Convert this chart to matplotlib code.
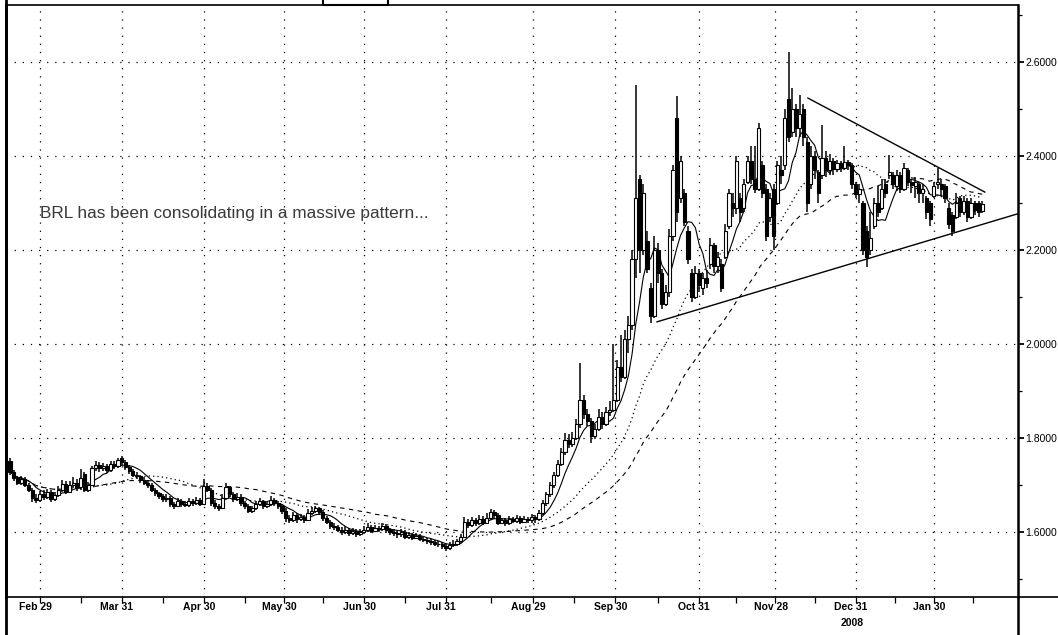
import matplotlib
matplotlib.use("Agg")
import matplotlib.pyplot as plt
import matplotlib.transforms as mtransforms
from matplotlib.lines import Line2D
from matplotlib.patches import Rectangle
import numpy as np
import pandas as pd

plt.rcParams['font.family'] = ['Liberation Sans', 'DejaVu Sans']

# daily USD/BRL bars, Feb 2008 - Feb 2009
open_ = [
    1.750, 1.728, 1.715, 1.705, 1.712, 1.700, 1.690, 1.672, 1.668, 1.680,
    1.675, 1.685, 1.670, 1.678, 1.690, 1.702, 1.685, 1.700, 1.705, 1.695,
    1.724, 1.690, 1.700, 1.735, 1.742, 1.735, 1.740, 1.732, 1.745, 1.740,
    1.758, 1.748, 1.738, 1.730, 1.722, 1.718, 1.710, 1.705, 1.700, 1.690,
    1.682, 1.676, 1.670, 1.672, 1.660, 1.655, 1.665, 1.660, 1.658, 1.665,
    1.662, 1.668, 1.660, 1.698, 1.690, 1.662, 1.655, 1.650, 1.672, 1.695,
    1.680, 1.670, 1.675, 1.662, 1.655, 1.645, 1.650, 1.660, 1.665, 1.655,
    1.660, 1.668, 1.662, 1.655, 1.645, 1.630, 1.625, 1.635, 1.628, 1.632,
    1.626, 1.640, 1.645, 1.650, 1.642, 1.630, 1.622, 1.612, 1.610, 1.605,
    1.600, 1.605, 1.598, 1.602, 1.596, 1.600, 1.605, 1.610, 1.603, 1.608,
    1.606, 1.612, 1.604, 1.600, 1.598, 1.595, 1.600, 1.590, 1.594, 1.588,
    1.592, 1.586, 1.583, 1.580, 1.578, 1.575, 1.574, 1.570, 1.566, 1.572,
    1.575, 1.580, 1.590, 1.622, 1.615, 1.625, 1.618, 1.628, 1.620, 1.630,
    1.642, 1.635, 1.620, 1.625, 1.618, 1.628, 1.624, 1.630, 1.622, 1.628,
    1.625, 1.632, 1.628, 1.640, 1.662, 1.680, 1.700, 1.722, 1.745, 1.770,
    1.795, 1.788, 1.800, 1.830, 1.880, 1.850, 1.835, 1.805, 1.820, 1.845,
    1.830, 1.855, 1.860, 1.880, 1.950, 1.930, 2.010, 2.040, 2.180, 2.350,
    2.200, 2.220, 2.120, 2.060, 2.200, 2.150, 2.085, 2.110, 2.230, 2.480,
    2.310, 2.320, 2.240, 2.150, 2.100, 2.150, 2.120, 2.140, 2.170, 2.210,
    2.165, 2.170, 2.185, 2.250, 2.300, 2.290, 2.310, 2.290, 2.345, 2.390,
    2.350, 2.330, 2.380, 2.330, 2.270, 2.330, 2.300, 2.370, 2.380, 2.520,
    2.450, 2.500, 2.460, 2.500, 2.430, 2.340, 2.400, 2.365, 2.360, 2.395,
    2.370, 2.390, 2.372, 2.385, 2.375, 2.388, 2.380, 2.340, 2.318, 2.300,
    2.240, 2.200, 2.250, 2.300, 2.290, 2.340, 2.360, 2.360, 2.335, 2.360,
    2.330, 2.370, 2.345, 2.335, 2.340, 2.320, 2.310, 2.300, 2.315, 2.340,
    2.340, 2.335, 2.290, 2.275, 2.270, 2.310, 2.280, 2.305, 2.270, 2.300,
    2.300, 2.282]

high = [
    1.758, 1.732, 1.720, 1.718, 1.716, 1.705, 1.694, 1.680, 1.688, 1.690,
    1.692, 1.690, 1.684, 1.698, 1.710, 1.708, 1.708, 1.716, 1.712, 1.734,
    1.728, 1.706, 1.740, 1.750, 1.748, 1.746, 1.745, 1.750, 1.750, 1.758,
    1.762, 1.752, 1.742, 1.734, 1.728, 1.722, 1.716, 1.710, 1.704, 1.694,
    1.686, 1.680, 1.680, 1.676, 1.664, 1.672, 1.670, 1.666, 1.672, 1.670,
    1.674, 1.672, 1.712, 1.704, 1.694, 1.668, 1.660, 1.680, 1.704, 1.698,
    1.686, 1.682, 1.680, 1.666, 1.660, 1.656, 1.666, 1.672, 1.668, 1.666,
    1.676, 1.672, 1.666, 1.660, 1.650, 1.636, 1.642, 1.640, 1.638, 1.636,
    1.648, 1.652, 1.656, 1.654, 1.646, 1.634, 1.626, 1.618, 1.614, 1.610,
    1.612, 1.608, 1.608, 1.606, 1.606, 1.612, 1.618, 1.614, 1.614, 1.612,
    1.618, 1.616, 1.608, 1.606, 1.602, 1.606, 1.604, 1.600, 1.598, 1.598,
    1.596, 1.590, 1.588, 1.584, 1.582, 1.580, 1.578, 1.574, 1.578, 1.582,
    1.586, 1.596, 1.632, 1.628, 1.632, 1.630, 1.636, 1.634, 1.640, 1.648,
    1.646, 1.640, 1.630, 1.630, 1.634, 1.632, 1.636, 1.634, 1.634, 1.632,
    1.638, 1.636, 1.646, 1.668, 1.686, 1.706, 1.728, 1.752, 1.778, 1.810,
    1.808, 1.812, 1.840, 1.960, 1.892, 1.862, 1.842, 1.830, 1.862, 1.855,
    1.866, 1.878, 2.000, 1.966, 2.020, 2.030, 2.060, 2.200, 2.550, 2.360,
    2.340, 2.240, 2.130, 2.230, 2.215, 2.160, 2.125, 2.245, 2.380, 2.527,
    2.400, 2.330, 2.250, 2.160, 2.165, 2.160, 2.150, 2.158, 2.225, 2.215,
    2.195, 2.180, 2.255, 2.330, 2.320, 2.400, 2.320, 2.350, 2.400, 2.420,
    2.420, 2.470, 2.390, 2.340, 2.320, 2.340, 2.390, 2.400, 2.500, 2.620,
    2.545, 2.510, 2.530, 2.510, 2.440, 2.420, 2.410, 2.370, 2.466, 2.410,
    2.405, 2.395, 2.392, 2.390, 2.420, 2.392, 2.385, 2.345, 2.340, 2.305,
    2.250, 2.280, 2.310, 2.335, 2.350, 2.350, 2.402, 2.365, 2.370, 2.365,
    2.385, 2.375, 2.350, 2.355, 2.345, 2.340, 2.315, 2.305, 2.345, 2.375,
    2.350, 2.340, 2.300, 2.280, 2.320, 2.315, 2.315, 2.310, 2.310, 2.305,
    2.305, 2.305]

low = [
    1.722, 1.708, 1.700, 1.700, 1.695, 1.684, 1.664, 1.662, 1.664, 1.668,
    1.670, 1.664, 1.666, 1.674, 1.686, 1.680, 1.682, 1.694, 1.688, 1.690,
    1.684, 1.686, 1.698, 1.730, 1.728, 1.730, 1.726, 1.728, 1.734, 1.736,
    1.742, 1.732, 1.724, 1.716, 1.712, 1.704, 1.700, 1.694, 1.684, 1.676,
    1.670, 1.664, 1.664, 1.654, 1.648, 1.652, 1.654, 1.652, 1.654, 1.656,
    1.658, 1.656, 1.658, 1.684, 1.656, 1.648, 1.644, 1.648, 1.668, 1.674,
    1.664, 1.666, 1.656, 1.648, 1.640, 1.640, 1.646, 1.656, 1.648, 1.650,
    1.656, 1.656, 1.648, 1.638, 1.622, 1.618, 1.622, 1.620, 1.624, 1.620,
    1.624, 1.636, 1.640, 1.636, 1.624, 1.616, 1.606, 1.604, 1.600, 1.594,
    1.596, 1.592, 1.594, 1.590, 1.592, 1.596, 1.600, 1.598, 1.600, 1.600,
    1.602, 1.598, 1.594, 1.592, 1.588, 1.590, 1.584, 1.586, 1.582, 1.584,
    1.580, 1.578, 1.574, 1.572, 1.570, 1.568, 1.564, 1.560, 1.562, 1.568,
    1.570, 1.576, 1.588, 1.608, 1.610, 1.612, 1.614, 1.614, 1.616, 1.626,
    1.628, 1.614, 1.616, 1.612, 1.614, 1.618, 1.620, 1.616, 1.618, 1.618,
    1.620, 1.620, 1.624, 1.636, 1.656, 1.674, 1.694, 1.716, 1.740, 1.764,
    1.778, 1.780, 1.796, 1.822, 1.840, 1.826, 1.790, 1.798, 1.815, 1.818,
    1.825, 1.846, 1.855, 1.876, 1.920, 1.925, 1.980, 2.030, 2.140, 2.150,
    2.190, 2.150, 2.045, 2.055, 2.130, 2.075, 2.080, 2.100, 2.220, 2.260,
    2.300, 2.250, 2.170, 2.090, 2.095, 2.110, 2.105, 2.120, 2.160, 2.150,
    2.150, 2.110, 2.180, 2.245, 2.270, 2.277, 2.260, 2.280, 2.340, 2.340,
    2.320, 2.325, 2.310, 2.220, 2.260, 2.200, 2.295, 2.340, 2.370, 2.430,
    2.440, 2.440, 2.440, 2.420, 2.280, 2.330, 2.350, 2.300, 2.350, 2.355,
    2.360, 2.360, 2.366, 2.365, 2.370, 2.370, 2.330, 2.310, 2.300, 2.190,
    2.163, 2.190, 2.245, 2.270, 2.285, 2.310, 2.350, 2.330, 2.325, 2.320,
    2.325, 2.335, 2.320, 2.310, 2.300, 2.300, 2.265, 2.250, 2.310, 2.330,
    2.315, 2.300, 2.245, 2.230, 2.265, 2.270, 2.275, 2.260, 2.265, 2.275,
    2.270, 2.278]

close = [
    1.728, 1.715, 1.705, 1.712, 1.700, 1.690, 1.672, 1.668, 1.680, 1.675,
    1.685, 1.670, 1.678, 1.690, 1.702, 1.685, 1.700, 1.705, 1.695, 1.715,
    1.690, 1.700, 1.735, 1.742, 1.735, 1.740, 1.732, 1.745, 1.740, 1.752,
    1.748, 1.738, 1.730, 1.722, 1.718, 1.710, 1.705, 1.700, 1.690, 1.682,
    1.676, 1.670, 1.672, 1.660, 1.655, 1.665, 1.660, 1.658, 1.665, 1.662,
    1.668, 1.660, 1.698, 1.690, 1.662, 1.655, 1.650, 1.672, 1.695, 1.680,
    1.670, 1.675, 1.662, 1.655, 1.645, 1.650, 1.660, 1.665, 1.655, 1.660,
    1.668, 1.662, 1.655, 1.645, 1.630, 1.625, 1.635, 1.628, 1.632, 1.626,
    1.640, 1.645, 1.650, 1.642, 1.630, 1.622, 1.612, 1.610, 1.605, 1.600,
    1.605, 1.598, 1.602, 1.596, 1.600, 1.605, 1.610, 1.603, 1.608, 1.606,
    1.612, 1.604, 1.600, 1.598, 1.595, 1.600, 1.590, 1.594, 1.588, 1.592,
    1.586, 1.583, 1.580, 1.578, 1.575, 1.574, 1.570, 1.566, 1.572, 1.575,
    1.580, 1.590, 1.622, 1.615, 1.625, 1.618, 1.628, 1.620, 1.630, 1.642,
    1.635, 1.620, 1.625, 1.618, 1.628, 1.624, 1.630, 1.622, 1.628, 1.625,
    1.632, 1.628, 1.640, 1.662, 1.680, 1.700, 1.722, 1.745, 1.770, 1.795,
    1.788, 1.800, 1.830, 1.880, 1.850, 1.835, 1.805, 1.820, 1.845, 1.830,
    1.855, 1.860, 1.880, 1.950, 1.930, 2.010, 2.040, 2.180, 2.310, 2.200,
    2.320, 2.160, 2.060, 2.200, 2.150, 2.085, 2.110, 2.230, 2.370, 2.280,
    2.390, 2.260, 2.180, 2.100, 2.150, 2.125, 2.140, 2.130, 2.210, 2.165,
    2.185, 2.120, 2.240, 2.320, 2.290, 2.390, 2.280, 2.340, 2.390, 2.350,
    2.330, 2.460, 2.320, 2.230, 2.310, 2.230, 2.380, 2.360, 2.480, 2.440,
    2.500, 2.460, 2.490, 2.440, 2.300, 2.400, 2.370, 2.320, 2.395, 2.370,
    2.390, 2.372, 2.385, 2.375, 2.388, 2.380, 2.340, 2.318, 2.330, 2.200,
    2.185, 2.225, 2.300, 2.280, 2.330, 2.320, 2.365, 2.340, 2.360, 2.330,
    2.375, 2.345, 2.338, 2.345, 2.320, 2.330, 2.280, 2.265, 2.335, 2.345,
    2.330, 2.310, 2.255, 2.240, 2.300, 2.280, 2.305, 2.270, 2.300, 2.285,
    2.280, 2.298]

# month-end ticks (bar index) and labels
tick_pos = [8, 30, 52, 73.5, 95, 117, 140.5, 162.5, 185, 205.5, 227, 248]
tick_labels = ['Feb 29', 'Mar 31', 'Apr 30', 'May 30', 'Jun 30', 'Jul 31',
               'Aug 29', 'Sep 30', 'Oct 31', 'Nov 28', 'Dec 31', 'Jan 30']
minor_pos = [19, 41, 63, 84, 106, 129, 151.5, 174, 195, 216, 237.5, 258.5]

# triangle trend lines (bar index, price)
upper_x = [214.2, 261.7]
upper_y = [2.523, 2.323]
lower_x = [173.7, 270.6]
lower_y = [2.047, 2.277]

ma_periods = [7, 25, 45]

df = pd.DataFrame({'open': open_, 'high': high, 'low': low, 'close': close})
x = np.arange(len(df))

fig = plt.figure(figsize=(10.58, 6.35), dpi=100)
ax = fig.add_axes([6 / 1058, 38 / 635, 1012 / 1058, 592 / 635])
ax.set_xlim(-1.07, 270.6)
ax.set_ylim(1.4616, 2.721)

# grid
dots = (0, (1, 5.5))
for t in tick_pos:
    ax.axvline(t, color='black', lw=0.9, ls=dots, zorder=1)
for v in [1.6, 1.8, 2.0, 2.2, 2.4, 2.6]:
    ax.axhline(v, color='black', lw=0.9, ls=dots, zorder=1)

# moving averages
ma_fast = df['close'].rolling(ma_periods[0], min_periods=1).mean()
ma_mid = df['close'].rolling(ma_periods[1], min_periods=1).mean()
ma_slow = df['close'].rolling(ma_periods[2], min_periods=1).mean()
ax.plot(x, ma_fast, color='black', lw=0.8, zorder=2)
ax.plot(x, ma_mid, color='black', lw=0.9, ls=(0, (1, 2.5)), zorder=2)
ax.plot(x, ma_slow, color='black', lw=0.8, ls=(0, (4, 4)), zorder=2)

# candles
ax.vlines(x, df['low'], df['high'], color='black', lw=1.1, zorder=3)
body_lo = np.minimum(df['open'], df['close'])
body_h = np.abs(df['close'] - df['open'])
colors = np.where(df['close'] < df['open'], 'black', 'white')
ax.bar(x, body_h, bottom=body_lo, width=0.85, color=colors,
       edgecolor='black', linewidth=0.8, zorder=4)

# trend lines
ax.plot(upper_x, upper_y, color='black', lw=1.0, zorder=5)
ax.plot(lower_x, lower_y, color='black', lw=1.0, zorder=5, clip_on=True)

ax.text(0.0336, 0.6486, 'BRL has been consolidating in a massive pattern...',
        transform=ax.transAxes, fontsize=12.4, color='#3a3a3a',
        ha='left', va='center', zorder=6)

# axes styling
ax.yaxis.tick_right()
ax.set_yticks([1.6, 1.8, 2.0, 2.2, 2.4, 2.6])
ax.set_yticklabels(['%.4f' % v for v in [1.6, 1.8, 2.0, 2.2, 2.4, 2.6]])
ax.set_yticks([1.5, 1.7, 1.9, 2.1, 2.3, 2.5, 2.7], minor=True)
ax.tick_params(axis='y', which='major', direction='out', length=4, width=1.3,
               labelsize=7.5, pad=1)
ax.tick_params(axis='y', which='minor', direction='out', length=3, width=0.9)
ax.set_xticks(tick_pos)
ax.set_xticks(minor_pos, minor=True)
ax.set_xticklabels([])
ax.tick_params(axis='x', which='both', direction='out', length=4, width=0.9)

trans = mtransforms.blended_transform_factory(ax.transData, ax.transAxes)
for t, lab in zip(tick_pos, tick_labels):
    ax.text(t - 1.3, -0.008, lab, transform=trans, ha='center', va='top',
            fontsize=7.5, fontweight='bold',
            family=['Liberation Sans Narrow', 'Liberation Sans'])
ax.text(226, -0.036, '2008', transform=trans, ha='center', va='top',
        fontsize=7.5, fontweight='bold',
        family=['Liberation Sans Narrow', 'Liberation Sans'])

ax.spines['left'].set_linewidth(2)
ax.spines['right'].set_linewidth(1.8)
ax.spines['top'].set_linewidth(1.2)
ax.spines['bottom'].set_linewidth(1.2)

# frame pieces outside the plot area
W, H = 1058, 635
fig.add_artist(Line2D([6 / W, 6 / W], [0, 1], color='black', lw=2))
fig.add_artist(Line2D([1018 / W, 1018 / W], [0, 38 / H], color='black', lw=1.8))
fig.add_artist(Line2D([1018 / W, 1], [38 / H, 38 / H], color='black', lw=1.2))
fig.add_artist(Rectangle((323 / W, 630 / H), 65 / W, 8 / H, fill=False,
                         edgecolor='black', lw=1.5))

fig.savefig('out.png', dpi=100)
